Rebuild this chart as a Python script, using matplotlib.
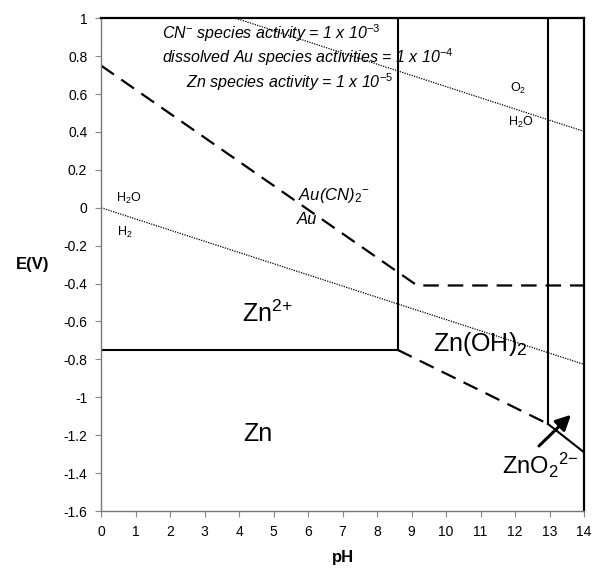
import matplotlib
matplotlib.use("Agg")
import matplotlib.pyplot as plt

plt.rcParams['font.family'] = ['Liberation Sans', 'DejaVu Sans']
plt.rcParams['mathtext.fontset'] = 'custom'
plt.rcParams['mathtext.rm'] = 'Liberation Sans'
plt.rcParams['mathtext.it'] = 'Liberation Sans:italic'
plt.rcParams['mathtext.bf'] = 'Liberation Sans:bold'

# Data
x_ticks = list(range(0, 15))
y_ticks = [1, 0.8, 0.6, 0.4, 0.2, 0, -0.2, -0.4, -0.6, -0.8, -1, -1.2, -1.4, -1.6]
y_tick_labels = ["1", "0.8", "0.6", "0.4", "0.2", "0", "-0.2", "-0.4", "-0.6", "-0.8", "-1", "-1.2", "-1.4", "-1.6"]

zn_zn2_x = [0, 8.6]
zn_zn2_y = [-0.75, -0.75]
zn2_znoh_x = [8.6, 8.6]
zn2_znoh_y = [-0.75, 1.0]
znoh_zno2_x = [12.95, 12.95]
znoh_zno2_y = [-1.14, 1.0]
zn_znoh_x = [8.6, 12.95]
zn_znoh_y = [-0.75, -1.14]
zn_zno2_x = [12.95, 14]
zn_zno2_y = [-1.14, -1.29]
au_x = [0, 9.16, 14]
au_y = [0.75, -0.41, -0.41]
h2_x = [0, 14]
h2_y = [0, -0.826]
o2_x = [3.9, 14]
o2_y = [1.0, 0.403]

fig = plt.figure(figsize=(5.95, 5.70), dpi=100)
ax = fig.add_axes([0.170, 0.1035, 0.8115, 0.8645])

ax.plot(zn_zn2_x, zn_zn2_y, color='black', lw=1.5)
ax.plot(zn2_znoh_x, zn2_znoh_y, color='black', lw=1.5)
ax.plot(znoh_zno2_x, znoh_zno2_y, color='black', lw=1.5)
ax.plot(zn_znoh_x, zn_znoh_y, color='black', lw=1.6, dashes=(7, 4))
ax.plot(zn_zno2_x, zn_zno2_y, color='black', lw=1.5)
ax.plot(au_x, au_y, color='black', lw=1.6, dashes=(7, 4))
ax.plot(h2_x, h2_y, color='black', lw=0.9, ls=(0, (1, 1)))
ax.plot(o2_x, o2_y, color='black', lw=0.9, ls=(0, (1, 1)))

ax.set_xlim(0, 14)
ax.set_ylim(-1.6, 1)
ax.set_xticks(x_ticks)
ax.set_yticks(y_ticks)
ax.set_yticklabels(y_tick_labels)
ax.tick_params(axis='both', direction='out', length=4, width=0.8, color='#888888', labelsize=10, pad=6)
for s in ['left', 'bottom']:
    ax.spines[s].set_color('#777777')
    ax.spines[s].set_linewidth(1.0)
for s in ['top', 'right']:
    ax.spines[s].set_color('black')
    ax.spines[s].set_linewidth(1.6)

ax.set_xlabel('pH', fontsize=12, fontweight='bold', labelpad=8)
ax.set_ylabel('E(V)', fontsize=12, fontweight='bold', rotation=0, labelpad=22, va='center')

def px(xp, yp):
    return ((xp - 101) / 34.5, 1 - (yp - 18) * 2.6 / 492)

ital = dict(fontsize=11.5, style='italic', ha='center', va='center')
ax.text(*px(271, 33), r"CN$^{\mathit{-}}$ species activity = 1 x 10$^{\mathit{-3}}$", **ital)
ax.text(*px(308, 57), r"dissolved Au species activities = 1 x 10$^{\mathit{-4}}$", **ital)
ax.text(*px(290, 82), r"Zn species activity = 1 x 10$^{\mathit{-5}}$", **ital)

small = dict(fontsize=9, ha='center', va='center')
ax.text(*px(518, 88), r"O$_{\mathregular{2}}$", **small)
ax.text(*px(521, 122), r"H$_{\mathregular{2}}$O", **small)
ax.text(*px(129, 198), r"H$_{\mathregular{2}}$O", **small)
ax.text(*px(125, 232), r"H$_{\mathregular{2}}$", **small)

ax.text(*px(298, 195), r"Au(CN)$_{\mathit{2}}$$^{\mathit{-}}$", fontsize=12, style='italic', ha='left', va='center')
ax.text(*px(297, 219), "Au", fontsize=12, style='italic', ha='left', va='center')

big = dict(fontsize=18, ha='center', va='center')
ax.text(*px(267, 313), r"Zn$^{\mathregular{2{+}}}$", **big)
ax.text(*px(480, 343), r"Zn(OH)$_{\mathregular{2}}$", **big)
ax.text(*px(258, 433), "Zn", **big)
ax.text(*px(540, 465), r"ZnO$_{\mathregular{2}}$$^{\mathregular{2{-}}}$", fontsize=17, ha='center', va='center')

ax.annotate("", xy=px(573, 412), xytext=px(537, 447),
            arrowprops=dict(arrowstyle='-|>,head_width=0.45,head_length=0.9', color='black', lw=2.2))

fig.savefig("out.png", dpi=100)
